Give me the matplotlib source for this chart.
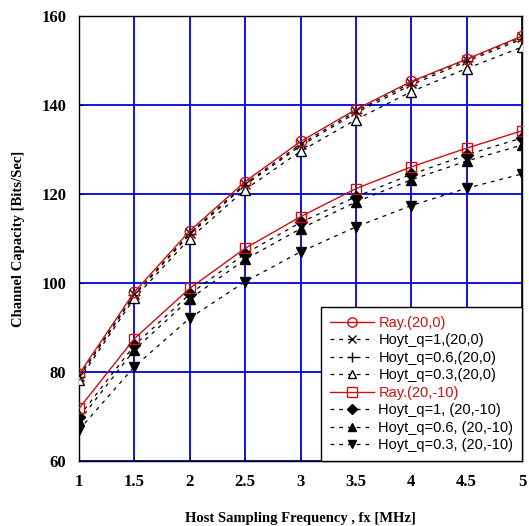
import numpy as np
import matplotlib
matplotlib.use("Agg")
import matplotlib.pyplot as plt

# Host sampling frequency [MHz]
fx = [1, 1.5, 2, 2.5, 3, 3.5, 4, 4.5, 5]

# Channel capacity [Bits/Sec]
ray_20_0      = [79.5, 98.0, 111.7, 122.8, 131.8, 139.0, 145.3, 150.3, 155.5]
hoyt1_20_0    = [79.0, 97.5, 111.2, 122.3, 131.2, 138.6, 145.0, 150.2, 155.2]
hoyt06_20_0   = [78.8, 97.2, 110.9, 122.0, 130.8, 138.2, 144.5, 149.8, 154.8]
hoyt03_20_0   = [78.2, 96.6, 110.0, 121.0, 129.6, 136.7, 143.0, 148.2, 153.0]
ray_20_10     = [71.8, 87.5, 98.8, 107.8, 114.9, 121.2, 126.1, 130.3, 134.2]
hoyt1_20_10   = [70.0, 86.0, 97.5, 106.6, 113.6, 119.4, 124.4, 128.8, 132.6]
hoyt06_20_10  = [69.0, 85.0, 96.4, 105.3, 112.2, 118.2, 123.2, 127.4, 131.0]
hoyt03_20_10  = [67.0, 81.2, 92.1, 100.3, 107.0, 112.6, 117.4, 121.3, 124.5]

labels = ["Ray.(20,0)", "Hoyt_q=1,(20,0)", "Hoyt_q=0.6,(20,0)", "Hoyt_q=0.3,(20,0)",
          "Ray.(20,-10)", "Hoyt_q=1, (20,-10)", "Hoyt_q=0.6, (20,-10)", "Hoyt_q=0.3, (20,-10)"]

xticks = [1, 1.5, 2, 2.5, 3, 3.5, 4, 4.5, 5]
yticks = [60, 80, 100, 120, 140, 160]

fig = plt.figure(figsize=(5.29, 5.26), dpi=100)
ax = fig.add_axes([79 / 529, 1 - 461 / 526, 443 / 529, 445 / 526])

dash = (0, (3, 4))
red = "#d01010"

ax.plot(fx, ray_20_0, color=red, lw=1.0, marker="o", ms=7.5, mfc="none", mec=red,
        mew=1.0, label=labels[0], zorder=5)
ax.plot(fx, hoyt1_20_0, color="k", lw=0.9, ls=dash, marker="x", ms=7, mew=1.0,
        label=labels[1], zorder=4)
ax.plot(fx, hoyt06_20_0, color="k", lw=0.9, ls=dash, marker="+", ms=8, mew=1.0,
        label=labels[2], zorder=4)
ax.plot(fx, hoyt03_20_0, color="k", lw=0.9, ls=dash, marker="^", ms=7, mfc="white",
        mec="k", mew=1.0, label=labels[3], zorder=4)
ax.plot(fx, ray_20_10, color=red, lw=1.0, marker="s", ms=7.5, mfc="none", mec=red,
        mew=1.0, label=labels[4], zorder=5)
ax.plot(fx, hoyt1_20_10, color="k", lw=0.9, ls=dash, marker="D", ms=6,
        label=labels[5], zorder=4)
ax.plot(fx, hoyt06_20_10, color="k", lw=0.9, ls=dash, marker="^", ms=7,
        label=labels[6], zorder=4)
ax.plot(fx, hoyt03_20_10, color="k", lw=0.9, ls=dash, marker="v", ms=7,
        label=labels[7], zorder=4)

ax.set_xlim(1, 5)
ax.set_ylim(60, 160)
ax.set_xticks(xticks)
ax.set_xticklabels(["1", "1.5", "2", "2.5", "3", "3.5", "4", "4.5", "5"])
ax.set_yticks(yticks)
ax.grid(True, color="#0000e0", lw=1.3)
ax.set_axisbelow(True)
for s in ax.spines.values():
    s.set_color("k")
    s.set_linewidth(1.0)
ax.tick_params(direction="in", length=3, width=0.8, pad=9)

for lab in ax.get_xticklabels() + ax.get_yticklabels():
    lab.set_family("Liberation Serif")
    lab.set_fontweight("bold")
    lab.set_fontsize(12)

ax.set_xlabel("Host Sampling Frequency , fx [MHz]", family="Liberation Serif",
              fontweight="bold", fontsize=10.5, labelpad=16)
ax.set_ylabel("Channel Capacity [Bits/Sec]", family="Liberation Serif",
              fontweight="bold", fontsize=10.5, labelpad=12)

leg = ax.legend(loc="lower right", borderaxespad=0, fancybox=False, framealpha=1,
                edgecolor="k", prop={"family": "Liberation Sans", "size": 10.5},
                handlelength=3.0, handletextpad=0.3, labelspacing=0.24,
                borderpad=0.6, markerscale=0.9)
leg.get_frame().set_linewidth(1.0)
for t, lab in zip(leg.get_texts(), labels):
    if lab.startswith("Ray"):
        t.set_color(red)

fig.savefig("out.png", dpi=100)
